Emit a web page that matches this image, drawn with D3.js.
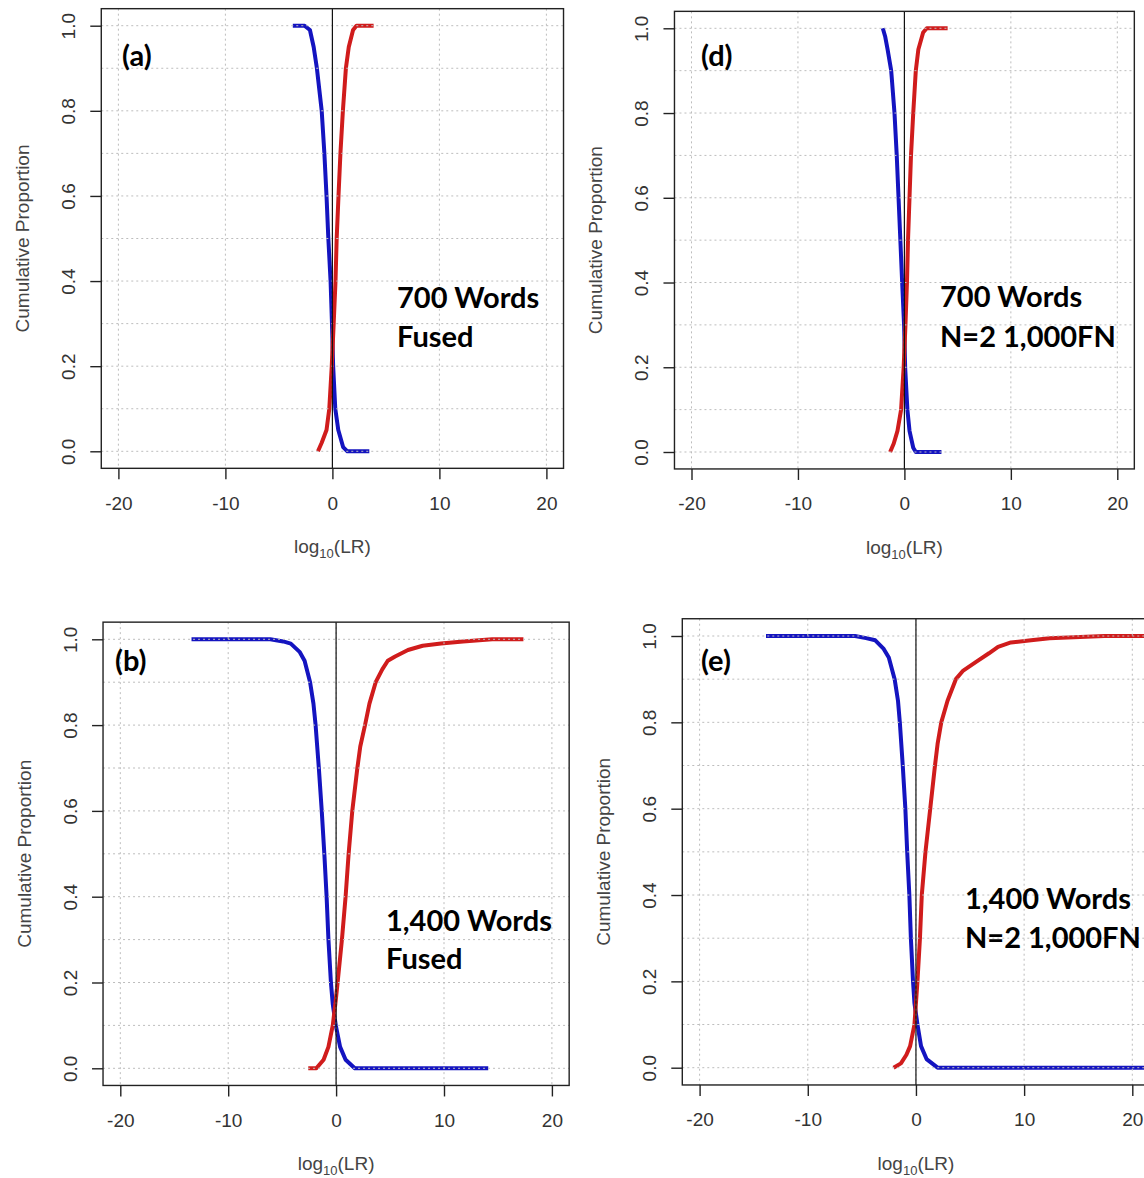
<!DOCTYPE html>
<head>
  <meta charset="utf-8">
  <script src="https://cdnjs.cloudflare.com/ajax/libs/d3/7.8.5/d3.min.js"></script>
  <style>
    body { margin:0; background:#fff; }
    svg { display:block; }
    .tick-lab { font-family:"Liberation Sans", Arial, sans-serif; font-size:19px; fill:#333; }
    .ax-title { font-family:"Liberation Sans", Arial, sans-serif; font-size:19px; fill:#444; }
    .note { font-family:Lato, "Open Sans", sans-serif; font-weight:700; font-size:29px; fill:#000; }
  </style>
</head>

<body>
  <script>
    // axis ticks shared by all four panels
    var xTicks = [-20, -10, 0, 10, 20];
    var yTicks = [0, 0.2, 0.4, 0.6, 0.8, 1.0];
    var yGrid = [0, 0.1, 0.2, 0.3, 0.4, 0.5, 0.6, 0.7, 0.8, 0.9, 1.0];

    var tags = ['(a)', '(d)', '(b)', '(e)'];
    var notes = [['700 Words', 'Fused'], ['700 Words', 'N=2 1,000FN'],
                 ['1,400 Words', 'Fused'], ['1,400 Words', 'N=2 1,000FN']];

    // curves: [log10(LR), cumulative proportion]
    var aBlue = [[-3.7,1],[-2.6,1],[-2.1,0.99],[-1.75,0.95],[-1.45,0.9],[-1.0,0.8],[-0.75,0.7],[-0.55,0.6],[-0.38,0.5],[-0.17,0.4],[-0.04,0.3],[0.07,0.2],[0.27,0.1],[0.55,0.05],[1.0,0.01],[1.4,0],[3.45,0]];
    var aRed  = [[-1.35,0],[-1.0,0.02],[-0.55,0.05],[-0.29,0.1],[-0.06,0.2],[0.12,0.3],[0.29,0.4],[0.4,0.5],[0.57,0.6],[0.75,0.7],[0.98,0.8],[1.26,0.9],[1.53,0.95],[1.93,0.99],[2.25,1],[3.85,1]];
    var dBlue = [[-2.03,1],[-1.8,0.98],[-1.58,0.95],[-1.24,0.9],[-0.93,0.8],[-0.72,0.7],[-0.55,0.6],[-0.38,0.5],[-0.21,0.4],[-0.03,0.3],[0.07,0.2],[0.28,0.1],[0.48,0.05],[0.83,0.01],[1.07,0],[3.48,0]];
    var dRed  = [[-1.34,0],[-1.0,0.02],[-0.65,0.05],[-0.31,0.1],[-0.07,0.2],[0.1,0.3],[0.24,0.4],[0.34,0.5],[0.48,0.6],[0.62,0.7],[0.83,0.8],[1.07,0.9],[1.31,0.95],[1.76,0.99],[2.1,1],[4.06,1]];
    var bBlue = [[-13.4,1],[-6.1,1],[-4.9,0.995],[-4.2,0.99],[-3.36,0.97],[-2.92,0.95],[-2.41,0.9],[-2.1,0.85],[-1.9,0.8],[-1.6,0.7],[-1.33,0.6],[-1.09,0.5],[-0.88,0.4],[-0.71,0.3],[-0.48,0.2],[-0.31,0.15],[-0.03,0.1],[0.37,0.05],[0.88,0.02],[1.73,0],[14.1,0]];
    var bRed  = [[-2.58,0],[-1.83,0],[-1.16,0.02],[-0.71,0.05],[-0.31,0.1],[-0.07,0.15],[0.14,0.2],[0.54,0.3],[0.88,0.4],[1.16,0.5],[1.5,0.6],[1.97,0.7],[2.24,0.75],[2.68,0.8],[3.09,0.85],[3.67,0.9],[4.28,0.93],[4.79,0.95],[5.47,0.96],[6.66,0.975],[8.02,0.985],[9.72,0.99],[11.76,0.995],[14.47,1],[17.36,1]];
    var eBlue = [[-13.86,1],[-5.63,1],[-4.61,0.995],[-3.76,0.99],[-2.98,0.97],[-2.51,0.95],[-1.97,0.9],[-1.66,0.85],[-1.49,0.8],[-1.22,0.7],[-0.98,0.6],[-0.81,0.5],[-0.61,0.4],[-0.47,0.3],[-0.27,0.2],[-0.14,0.15],[0.14,0.1],[0.47,0.05],[0.98,0.02],[2.0,0],[24,0]];
    var eRed  = [[-2.07,0],[-1.39,0.01],[-0.88,0.03],[-0.54,0.05],[-0.14,0.1],[0.14,0.2],[0.37,0.3],[0.54,0.4],[0.88,0.5],[1.32,0.6],[1.76,0.7],[2.0,0.75],[2.34,0.8],[2.92,0.85],[3.69,0.9],[4.37,0.92],[5.56,0.94],[6.75,0.96],[7.59,0.975],[8.78,0.985],[10.64,0.99],[12.34,0.995],[17.42,1],[24,1]];

    var BLUE = '#1414c0', RED = '#d01c1c';

    // where each panel sits: pixel spots of x=-20/20 and y=0/1, tag and note anchors
    var layout = [
      { xr:[118.4, 546.4], yr:[451.3, 25.7], blue:aBlue, red:aRed, tag:[122, 66], note:[397, 308, 347] },
      { xr:[691.5, 1117.3], yr:[452, 28.3], blue:dBlue, red:dRed, tag:[701, 66], note:[940, 307, 347] },
      { xr:[120.3, 551.9], yr:[1068.3, 639.3], blue:bBlue, red:bRed, tag:[115, 671], note:[386, 931, 969] },
      { xr:[699.6, 1132.3], yr:[1067.7, 636], blue:eBlue, red:eRed, tag:[701, 671], note:[965, 909, 948] }
    ];

    var svg = d3.select('body').append('svg')
      .attr('width', 1144)
      .attr('height', 1178);

    layout.forEach(function(p, i) {
      var x = d3.scaleLinear().domain([-20, 20]).range(p.xr);
      var y = d3.scaleLinear().domain([0, 1]).range(p.yr);
      // R style 4% padding round the data range
      var left = x(-21.6), right = x(21.6), top = y(1.04), bottom = y(-0.04);
      var g = svg.append('g');

      g.append('clipPath').attr('id', 'clip' + i)
        .append('rect').attr('x', left).attr('y', top)
        .attr('width', right - left).attr('height', bottom - top);

      var line = d3.line().x(function(d){ return x(d[0]); }).y(function(d){ return y(d[1]); });

      var plot = g.append('g').attr('clip-path', 'url(#clip' + i + ')');
      plot.append('path').datum(p.blue).attr('d', line)
        .style('fill', 'none').style('stroke', BLUE).style('stroke-width', 4).style('stroke-linejoin', 'round');
      plot.append('path').datum(p.red).attr('d', line)
        .style('fill', 'none').style('stroke', RED).style('stroke-width', 4).style('stroke-linejoin', 'round');

      // grid drawn after the curves, like grid() in R
      plot.selectAll('.gy').data(yGrid).enter().append('line')
        .attr('x1', left).attr('x2', right)
        .attr('y1', function(d){ return y(d); }).attr('y2', function(d){ return y(d); })
        .style('stroke', '#bdbdbd').style('stroke-width', 1).style('stroke-dasharray', '2,3');
      plot.selectAll('.gx').data(xTicks).enter().append('line')
        .attr('y1', top).attr('y2', bottom)
        .attr('x1', function(d){ return x(d); }).attr('x2', function(d){ return x(d); })
        .style('stroke', '#bdbdbd').style('stroke-width', 1).style('stroke-dasharray', '2,3');

      // abline(v=0)
      g.append('line').attr('x1', x(0)).attr('x2', x(0)).attr('y1', top).attr('y2', bottom)
        .style('stroke', '#111').style('stroke-width', 1.2);

      g.append('rect').attr('x', left).attr('y', top)
        .attr('width', right - left).attr('height', bottom - top)
        .style('fill', 'none').style('stroke', '#222').style('stroke-width', 1.4);

      // x axis, plain hyphen for negatives as in R
      var xa = g.append('g').attr('transform', 'translate(0,' + bottom + ')')
        .call(d3.axisBottom(x).tickValues(xTicks).tickSize(11).tickPadding(17)
          .tickFormat(function(d){ return String(d); }));
      xa.select('.domain').remove();
      xa.selectAll('line').style('stroke', '#222').style('stroke-width', 1.4);
      xa.selectAll('text').attr('class', 'tick-lab').attr('fill', null);

      // y axis, labels turned like R's las=0
      var ya = g.append('g').attr('transform', 'translate(' + left + ',0)')
        .call(d3.axisLeft(y).tickValues(yTicks).tickSize(11).tickFormat(function(d){ return d.toFixed(1); }));
      ya.select('.domain').remove();
      ya.selectAll('line').style('stroke', '#222').style('stroke-width', 1.4);
      ya.selectAll('text').attr('class', 'tick-lab').attr('fill', null)
        .attr('x', null).attr('dy', null)
        .attr('text-anchor', 'middle')
        .attr('transform', 'translate(-33,0) rotate(-90)')
        .attr('dominant-baseline', 'central');

      var cx = (x(-20) + x(20)) / 2;
      var xt = g.append('text').attr('class', 'ax-title')
        .attr('x', cx).attr('y', bottom + 85).attr('text-anchor', 'middle');
      xt.append('tspan').text('log');
      xt.append('tspan').text('10').style('font-size', '13px').attr('dy', 5);
      xt.append('tspan').text('(LR)').attr('dy', -5);

      g.append('text').attr('class', 'ax-title')
        .attr('transform', 'translate(' + (left - 79) + ',' + ((top + bottom) / 2) + ') rotate(-90)')
        .attr('text-anchor', 'middle').attr('dominant-baseline', 'central')
        .text('Cumulative Proportion');

      g.append('text').attr('class', 'note')
        .attr('x', p.tag[0]).attr('y', p.tag[1]).text(tags[i]);

      g.selectAll('.nt').data(notes[i]).enter().append('text').attr('class', 'note')
        .attr('x', p.note[0])
        .attr('y', function(d, k){ return p.note[1 + k]; })
        .text(function(d){ return d; });
    });
  </script>
</body>
